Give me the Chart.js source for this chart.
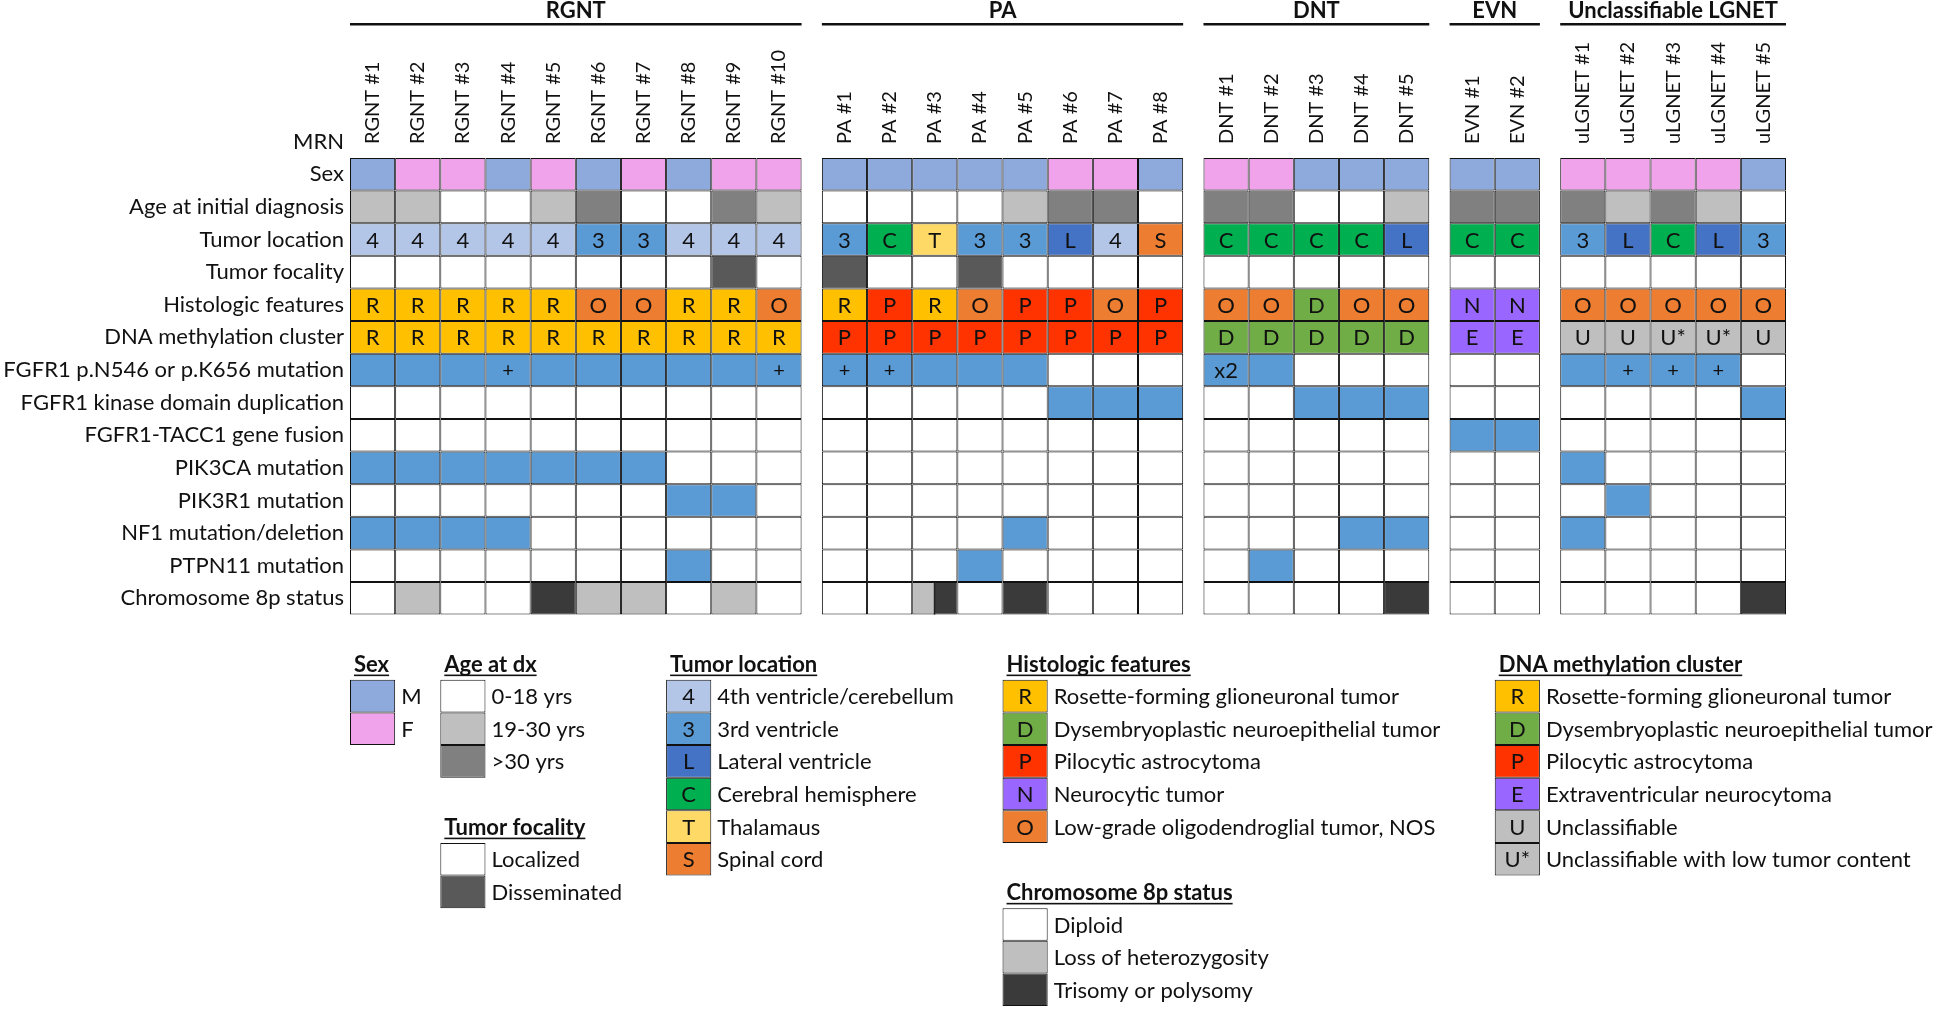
<!DOCTYPE html>
<html>
<head>
<meta charset="utf-8">
<script src="https://cdn.jsdelivr.net/npm/chart.js@4.4.1/dist/chart.umd.min.js"></script>
<style>
  html, body { margin: 0; padding: 0; background: #fff; }
  #wrap { width: 1960px; height: 1009px; position: relative; }
</style>
</head>
<body>
<div id="wrap"><canvas id="chart"></canvas></div>
<script>
// Grupos y muestras
const groupNames = ['RGNT', 'PA', 'DNT', 'EVN', 'Unclassifiable LGNET'];
const groupSizes = [10, 8, 5, 2, 5];
const sampleNames = [
  'RGNT #1', 'RGNT #2', 'RGNT #3', 'RGNT #4', 'RGNT #5', 'RGNT #6', 'RGNT #7', 'RGNT #8', 'RGNT #9', 'RGNT #10',
  'PA #1', 'PA #2', 'PA #3', 'PA #4', 'PA #5', 'PA #6', 'PA #7', 'PA #8',
  'DNT #1', 'DNT #2', 'DNT #3', 'DNT #4', 'DNT #5',
  'EVN #1', 'EVN #2',
  'uLGNET #1', 'uLGNET #2', 'uLGNET #3', 'uLGNET #4', 'uLGNET #5'
];
const rowLabels = [
  'Sex', 'Age at initial diagnosis', 'Tumor location', 'Tumor focality', 'Histologic features',
  'DNA methylation cluster', 'FGFR1 p.N546 or p.K656 mutation', 'FGFR1 kinase domain duplication',
  'FGFR1-TACC1 gene fusion', 'PIK3CA mutation', 'PIK3R1 mutation', 'NF1 mutation/deletion',
  'PTPN11 mutation', 'Chromosome 8p status'
];

// Valores por fila (una entrada por muestra)
const sex = ['M','F','F','M','F','M','F','M','F','F', 'M','M','M','M','M','F','F','M', 'F','F','M','M','M', 'M','M', 'F','F','F','F','M'];
const ageGroup = ['19-30','19-30','0-18','0-18','19-30','>30','0-18','0-18','>30','19-30',
  '0-18','0-18','0-18','0-18','19-30','>30','>30','0-18',
  '>30','>30','0-18','0-18','19-30', '>30','>30', '>30','19-30','>30','19-30','0-18'];
const tumorLocation = ['4','4','4','4','4','3','3','4','4','4', '3','C','T','3','3','L','4','S', 'C','C','C','C','L', 'C','C', '3','L','C','L','3'];
const focality = ['L','L','L','L','L','L','L','L','D','L', 'D','L','L','D','L','L','L','L', 'L','L','L','L','L', 'L','L', 'L','L','L','L','L'];
const histology = ['R','R','R','R','R','O','O','R','R','O', 'R','P','R','O','P','P','O','P', 'O','O','D','O','O', 'N','N', 'O','O','O','O','O'];
const methylation = ['R','R','R','R','R','R','R','R','R','R', 'P','P','P','P','P','P','P','P', 'D','D','D','D','D', 'E','E', 'U','U','U*','U*','U'];
// '' = sin alteración, 'y' = alterado, '+' / 'x2' = alterado con marca
const fgfr1Mutation = ['y','y','y','+','y','y','y','y','y','+', '+','+','y','y','y','','','', 'x2','y','','','', '','', 'y','+','+','+',''];
const fgfr1Duplication = [0,0,0,0,0,0,0,0,0,0, 0,0,0,0,0,1,1,1, 0,0,1,1,1, 0,0, 0,0,0,0,1];
const fgfr1Tacc1 = [0,0,0,0,0,0,0,0,0,0, 0,0,0,0,0,0,0,0, 0,0,0,0,0, 1,1, 0,0,0,0,0];
const pik3ca = [1,1,1,1,1,1,1,0,0,0, 0,0,0,0,0,0,0,0, 0,0,0,0,0, 0,0, 1,0,0,0,0];
const pik3r1 = [0,0,0,0,0,0,0,1,1,0, 0,0,0,0,0,0,0,0, 0,0,0,0,0, 0,0, 0,1,0,0,0];
const nf1 = [1,1,1,1,0,0,0,0,0,0, 0,0,0,0,1,0,0,0, 0,0,0,1,1, 0,0, 1,0,0,0,0];
const ptpn11 = [0,0,0,0,0,0,0,1,0,0, 0,0,0,1,0,0,0,0, 0,1,0,0,0, 0,0, 0,0,0,0,0];
const chr8p = ['D','LOH','D','D','TRI','LOH','LOH','D','LOH','D',
  'D','D','LOH/TRI','D','TRI','D','D','D', 'D','D','D','D','TRI', 'D','D', 'D','D','D','D','TRI'];

// Leyendas
const sexKeys = ['M', 'F'];
const sexLabels = ['M', 'F'];
const ageKeys = ['0-18', '19-30', '>30'];
const ageLabels = ['0-18 yrs', '19-30 yrs', '>30 yrs'];
const focalityKeys = ['L', 'D'];
const focalityLabels = ['Localized', 'Disseminated'];
const locationKeys = ['4', '3', 'L', 'C', 'T', 'S'];
const locationLabels = ['4th ventricle/cerebellum', '3rd ventricle', 'Lateral ventricle', 'Cerebral hemisphere', 'Thalamaus', 'Spinal cord'];
const histologyKeys = ['R', 'D', 'P', 'N', 'O'];
const histologyLabels = ['Rosette-forming glioneuronal tumor', 'Dysembryoplastic neuroepithelial tumor', 'Pilocytic astrocytoma', 'Neurocytic tumor', 'Low-grade oligodendroglial tumor, NOS'];
const methylationKeys = ['R', 'D', 'P', 'E', 'U', 'U*'];
const methylationLabels = ['Rosette-forming glioneuronal tumor', 'Dysembryoplastic neuroepithelial tumor', 'Pilocytic astrocytoma', 'Extraventricular neurocytoma', 'Unclassifiable', 'Unclassifiable with low tumor content'];
const chr8pKeys = ['D', 'LOH', 'TRI'];
const chr8pLabels = ['Diploid', 'Loss of heterozygosity', 'Trisomy or polysomy'];

// Colores
const sexColors = { M: '#8EA9DB', F: '#F0A3EA' };
const ageColors = { '0-18': '#FFFFFF', '19-30': '#BFBFBF', '>30': '#808080' };
const focalityColors = { L: '#FFFFFF', D: '#595959' };
const locationColors = { '4': '#B4C6E7', '3': '#5B9BD5', L: '#4472C4', C: '#00B050', T: '#FFD966', S: '#ED7D31' };
const histologyColors = { R: '#FFC000', D: '#70AD47', P: '#FF3300', N: '#9966FF', O: '#ED7D31' };
const methylationColors = { R: '#FFC000', D: '#70AD47', P: '#FF3300', E: '#9966FF', U: '#BFBFBF', 'U*': '#BFBFBF' };
const chr8pColors = { D: '#FFFFFF', LOH: '#BFBFBF', TRI: '#3A3A3A' };
const mutColor = '#5B9BD5';
const FONT = 'Lato, "Open Sans", sans-serif';
const INK = '#111111';
const GAP = 0.45;

// Posición de cada columna en el eje x (con huecos entre grupos)
const colX = [];
const groupSpans = [];
let cursor = 0;
groupSizes.forEach((n, g) => {
  if (g > 0) cursor += GAP;
  const first = cursor;
  for (let i = 0; i < n; i++) { colX.push(cursor); cursor += 1; }
  groupSpans.push([first, cursor - 1]);
});

const mut = v => (v ? mutColor : '#FFFFFF');
const rows = [
  { values: sex, color: v => sexColors[v] },
  { values: ageGroup, color: v => ageColors[v] },
  { values: tumorLocation, color: v => locationColors[v], text: v => v },
  { values: focality, color: v => focalityColors[v] },
  { values: histology, color: v => histologyColors[v], text: v => v },
  { values: methylation, color: v => methylationColors[v], text: v => v },
  { values: fgfr1Mutation, color: mut, text: v => (v === '+' || v === 'x2' ? v : '') },
  { values: fgfr1Duplication, color: mut },
  { values: fgfr1Tacc1, color: mut },
  { values: pik3ca, color: mut },
  { values: pik3r1, color: mut },
  { values: nf1, color: mut },
  { values: ptpn11, color: mut },
  { values: chr8p, color: v => chr8pColors[v.split('/')[0]] }
];

const cellDatasets = rows.map((row, r) => ({
  label: rowLabels[r],
  data: row.values.map((v, c) => ({ x: colX[c], y: [r - 0.5, r + 0.5] })),
  backgroundColor: row.values.map(v => row.color(v)),
  text: row.values.map(v => (row.text ? row.text(v) : '')),
  split: row.values.map(v => (typeof v === 'string' && v.includes('/') ? chr8pColors[v.split('/')[1]] : null))
}));

// Ubicación de las leyendas: columna de la cuadrícula y fila del título
const legendLayout = [
  { title: 'Sex', col: 0, row: 15, keys: sexKeys, labels: sexLabels, colors: sexColors, showKey: false },
  { title: 'Age at dx', col: 2, row: 15, keys: ageKeys, labels: ageLabels, colors: ageColors, showKey: false },
  { title: 'Tumor focality', col: 2, row: 20, keys: focalityKeys, labels: focalityLabels, colors: focalityColors, showKey: false },
  { title: 'Tumor location', col: 7, row: 15, keys: locationKeys, labels: locationLabels, colors: locationColors, showKey: true },
  { title: 'Histologic features', col: 14, row: 15, keys: histologyKeys, labels: histologyLabels, colors: histologyColors, showKey: true },
  { title: 'Chromosome 8p status', col: 14, row: 22, keys: chr8pKeys, labels: chr8pLabels, colors: chr8pColors, showKey: false },
  { title: 'DNA methylation cluster', col: 24, row: 15, keys: methylationKeys, labels: methylationLabels, colors: methylationColors, showKey: true }
];

const legendDatasets = legendLayout.map(lg => ({
  label: lg.title,
  data: lg.keys.map((k, i) => ({ x: colX[lg.col], y: [lg.row + 1 + i - 0.5, lg.row + 1 + i + 0.5] })),
  backgroundColor: lg.keys.map(k => lg.colors[k]),
  text: lg.keys.map(k => (lg.showKey ? k : '')),
  split: lg.keys.map(() => null)
}));

// Texto en celdas, celda dividida, encabezados de grupo y leyendas
const annotate = {
  id: 'annotate',
  afterDatasetsDraw(chart) {
    const ctx = chart.ctx;
    const xs = chart.scales.x;
    const ys = chart.scales.y;
    ctx.save();
    ctx.fillStyle = INK;

    chart.data.datasets.forEach((ds, i) => {
      const meta = chart.getDatasetMeta(i);
      meta.data.forEach((bar, j) => {
        const p = bar.getProps(['x', 'y', 'base', 'width'], true);
        const top = Math.min(p.y, p.base), bottom = Math.max(p.y, p.base);
        if (ds.split[j]) {
          ctx.fillStyle = ds.split[j];
          ctx.fillRect(p.x, top + 1, p.width / 2 - 1, bottom - top - 2);
          ctx.fillStyle = '#222';
          ctx.fillRect(p.x - 1, top, 1.5, bottom - top);
          ctx.fillStyle = INK;
        }
        const t = ds.text[j];
        if (t) {
          ctx.font = (t === '+' ? '20px ' : '22px ') + FONT;
          ctx.textAlign = 'center';
          ctx.textBaseline = 'middle';
          ctx.fillText(t, p.x, (top + bottom) / 2 + 1);
        }
      });
    });

    // Encabezados de grupo
    groupSpans.forEach(([a, b], g) => {
      const left = xs.getPixelForValue(a - 0.5);
      const right = xs.getPixelForValue(b + 0.5);
      ctx.font = 'bold 22px ' + FONT;
      ctx.textAlign = 'center';
      ctx.textBaseline = 'alphabetic';
      ctx.fillText(groupNames[g], (left + right) / 2, 18);
      ctx.fillRect(left, 23, right - left, 2.5);
    });

    // MRN
    ctx.font = '22px ' + FONT;
    ctx.textAlign = 'right';
    ctx.textBaseline = 'middle';
    ctx.fillText('MRN', xs.left - 6, ys.getPixelForValue(-1));

    // Leyendas
    legendLayout.forEach(lg => {
      const boxLeft = xs.getPixelForValue(colX[lg.col] - 0.5);
      const boxRight = xs.getPixelForValue(colX[lg.col] + 0.5);
      const ty = ys.getPixelForValue(lg.row);
      ctx.font = 'bold 22px ' + FONT;
      ctx.textAlign = 'left';
      ctx.textBaseline = 'alphabetic';
      const tx = boxLeft + 4;
      ctx.fillText(lg.title, tx, ty + 8);
      ctx.fillRect(tx, ty + 11, ctx.measureText(lg.title).width, 1.6);
      ctx.font = '22px ' + FONT;
      ctx.textBaseline = 'middle';
      lg.labels.forEach((lab, i) => {
        ctx.fillText(lab, boxRight + 6, ys.getPixelForValue(lg.row + 1 + i) + 1);
      });
    });
    ctx.restore();
  }
};

function build() {
  new Chart(document.getElementById('chart'), {
    type: 'bar',
    data: { datasets: cellDatasets.concat(legendDatasets) },
    options: {
      responsive: true,
      maintainAspectRatio: false,
      animation: false,
      events: [],
      layout: { padding: { left: 0, right: 174, top: 0, bottom: 3 } },
      datasets: {
        bar: {
          grouped: false,
          categoryPercentage: 1,
          barPercentage: 1,
          borderColor: '#111111',
          borderWidth: 1,
          borderSkipped: false,
          inflateAmount: 0
        }
      },
      plugins: { legend: { display: false }, tooltip: { enabled: false } },
      scales: {
        x: {
          type: 'linear',
          position: 'top',
          offset: false,
          min: -0.5,
          max: colX[colX.length - 1] + 0.5,
          grid: { display: false, offset: false },
          border: { display: false },
          afterBuildTicks: s => { s.ticks = colX.map(v => ({ value: v })); },
          afterFit: s => { s.height = 158; s.paddingLeft = 0; s.paddingRight = 0; },
          ticks: {
            autoSkip: false,
            minRotation: 90,
            maxRotation: 90,
            padding: 6,
            labelOffset: 24,
            color: INK,
            font: { family: FONT, size: 20 },
            callback: (v, i) => sampleNames[i]
          }
        },
        y: {
          type: 'linear',
          reverse: true,
          min: -0.5,
          max: 25.5,
          grid: { display: false, drawTicks: false },
          border: { display: false },
          afterBuildTicks: s => { s.ticks = rowLabels.map((_, i) => ({ value: i })); },
          afterFit: s => { s.width = 350; s.paddingTop = 0; s.paddingBottom = 0; },
          ticks: {
            autoSkip: false,
            padding: 6,
            color: INK,
            font: { family: FONT, size: 22 },
            callback: v => rowLabels[v]
          }
        }
      }
    },
    plugins: [annotate]
  });
}

Promise.all([
  document.fonts.load('20px Lato'),
  document.fonts.load('22px Lato'),
  document.fonts.load('bold 22px Lato')
]).then(build, build);
</script>
</body>
</html>
